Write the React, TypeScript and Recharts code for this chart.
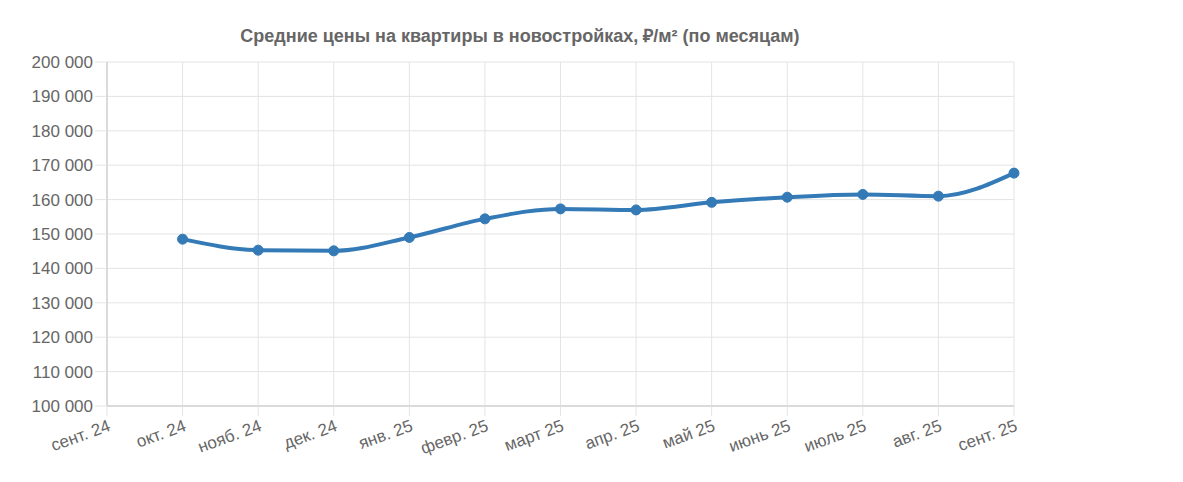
import React from 'react'
import { LineChart, Line, XAxis, YAxis, CartesianGrid } from 'recharts'

const months = [
  'сент. 24', 'окт. 24', 'нояб. 24', 'дек. 24', 'янв. 25', 'февр. 25', 'март 25',
  'апр. 25', 'май 25', 'июнь 25', 'июль 25', 'авг. 25', 'сент. 25',
]
const prices: Array<number | null> = [
  null, 148500, 145300, 145100, 149000, 154400, 157300,
  157000, 159200, 160700, 161500, 161000, 167700,
]
const yTicks = [100000, 110000, 120000, 130000, 140000, 150000, 160000, 170000, 180000, 190000, 200000]

const title = 'Средние цены на квартиры в новостройках, ₽/м² (по месяцам)'

const data = months.map((month, i) => ({ month, price: prices[i] }))

const font = '"Liberation Sans", Arial, Helvetica, sans-serif'

const fmt = (v: number) => String(v).replace(/\B(?=(\d{3})+(?!\d))/g, ' ')

function XTick({ x, y, payload }: any) {
  return (
    <g transform={`translate(${x},${y})`}>
      <text
        x={0}
        y={0}
        dy={13}
        textAnchor="end"
        fill="#666"
        fontSize={17}
        fontFamily={font}
        transform="rotate(-20)"
      >
        {payload.value}
      </text>
    </g>
  )
}

export default function App() {
  return (
    <div style={{ position: 'relative', width: 1040, height: 470, fontFamily: font }}>
      <div
        style={{
          position: 'absolute',
          left: 0,
          width: 1024,
          top: 15,
          textAlign: 'center',
          fontWeight: 'bold',
          fontSize: 18,
          color: '#666',
        }}
      >
        {title}
      </div>
      <LineChart
        width={1040}
        height={470}
        data={data}
        margin={{ top: 54, right: 34, bottom: 12, left: 0 }}
      >
        <CartesianGrid stroke="#e4e4e4" strokeWidth={1} />
        <XAxis
          dataKey="month"
          padding={{ left: 0, right: 0 }}
          interval={0}
          height={60}
          tick={<XTick />}
          tickSize={10}
          tickLine={{ stroke: '#e4e4e4' }}
          axisLine={{ stroke: '#c4c4c4' }}
        />
        <YAxis
          width={99}
          domain={[100000, 200000]}
          ticks={yTicks}
          interval={0}
          tickFormatter={fmt}
          tickSize={12}
          tickMargin={2}
          tick={{ fill: '#666', fontSize: 17, fontFamily: font }}
          tickLine={{ stroke: '#e4e4e4' }}
          axisLine={{ stroke: '#c4c4c4' }}
        />
        <Line
          type="monotone"
          dataKey="price"
          stroke="#337ab7"
          strokeWidth={4}
          dot={{ r: 5, fill: '#337ab7', stroke: '#337ab7', strokeWidth: 1 }}
          activeDot={false}
          connectNulls={false}
          isAnimationActive={false}
        />
      </LineChart>
    </div>
  )
}
